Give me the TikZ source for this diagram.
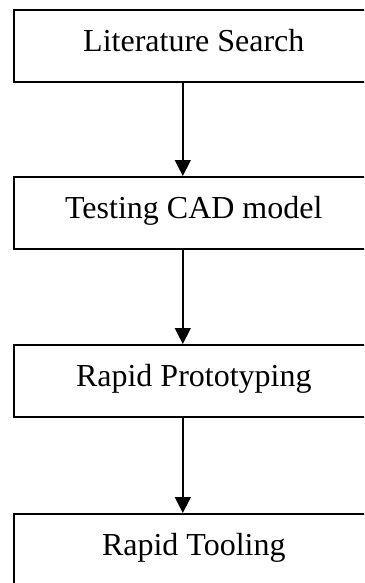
\documentclass[tikz,border=0pt]{standalone}
\usepackage{fontspec}
\setmainfont{Liberation Serif}
\usetikzlibrary{arrows.meta}
\begin{document}
\begin{tikzpicture}[x=1pt,y=-1pt,
  flowbox/.style={draw,line width=1.6pt,anchor=north west,minimum width=360pt,minimum height=72pt,
    inner sep=0pt,font=\fontsize{32}{38}\selectfont,text height=22pt,text depth=10pt},
  flowarrow/.style={line width=1.4pt,-{Triangle[width=16pt,length=16pt]}}]
\useasboundingbox (0,0) rectangle (364,583);
\clip (0,0) rectangle (364,583);
\node[flowbox] (a) at (13,9) {Literature Search};
\node[flowbox] (b) at (13,176) {Testing CAD model};
\node[flowbox] (c) at (13,344) {Rapid Prototyping};
\node[flowbox] (d) at (13,513) {Rapid Tooling};
\draw[flowarrow] ([xshift=-11pt]a.south) -- ([xshift=-11pt]b.north);
\draw[flowarrow] ([xshift=-11pt]b.south) -- ([xshift=-11pt]c.north);
\draw[flowarrow] ([xshift=-11pt]c.south) -- ([xshift=-11pt]d.north);
\end{tikzpicture}
\end{document}
